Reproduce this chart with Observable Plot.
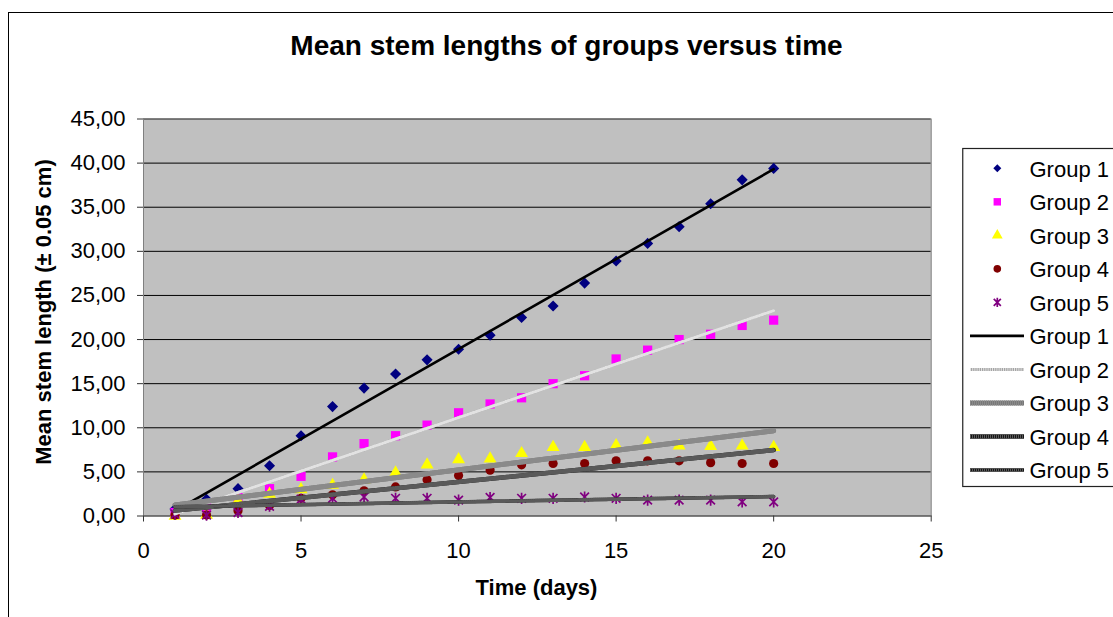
<!DOCTYPE html>
<html><head><meta charset="utf-8">
<script src="https://cdn.jsdelivr.net/npm/d3@7"></script>
<script src="https://cdn.jsdelivr.net/npm/@observablehq/plot@0.6"></script>
<style>
html,body{margin:0;padding:0;background:#fff;}
#wrap{position:relative;width:1113px;height:617px;overflow:hidden;font-family:"Liberation Sans",Arial,sans-serif;}
#border{position:absolute;left:8px;top:11.5px;width:1300px;height:800px;border:1.5px solid #000;box-sizing:border-box;}
#chart{position:absolute;left:0;top:0;}
#overlay{position:absolute;left:0;top:0;}
</style></head><body>
<div id="wrap"><div id="border"></div><div id="chart"></div><svg id="overlay" width="1113" height="617"></svg></div>
<script>
// ---- data ----
const days   = [1,2,3,4,5,6,7,8,9,10,11,12,13,14,15,16,17,18,19,20];
const group1 = [0.8,1.9,3.1,5.7,9.1,12.4,14.5,16.1,17.7,18.9,20.5,22.5,23.8,26.4,28.9,30.9,32.8,35.4,38.1,39.4];
const group2 = [0.4,1.0,2.1,3.1,4.5,6.7,8.2,9.1,10.3,11.7,12.7,13.4,15.0,15.9,17.8,18.8,20.0,20.6,21.6,22.2];
const group3 = [0.0,0.1,1.7,2.5,3.0,3.5,4.1,4.9,5.8,6.4,6.5,7.1,7.8,7.8,8.0,8.3,7.95,7.9,7.95,7.8];
const group4 = [0.1,0.1,0.6,1.2,2.0,2.4,2.85,3.3,4.1,4.6,5.2,5.8,5.95,5.95,6.25,6.25,6.25,6.05,5.95,5.95];
const group5 = [0.2,0.1,0.4,1.1,1.9,2.0,2.15,2.0,2.0,1.8,2.1,2.0,2.0,2.15,2.0,1.8,1.8,1.8,1.6,1.6];
const groupNames = ["Group 1","Group 2","Group 3","Group 4","Group 5"];
const xTicks = [0,5,10,15,20,25];
const yTicks = [0,5,10,15,20,25,30,35,40,45];
const titleText = "Mean stem lengths of groups versus time";
const xLabel = "Time (days)";
const yLabel = "Mean stem length (\u00b1 0.05 cm)";

const series = [group1, group2, group3, group4, group5];
const rows = series.map((s, k) => days.map((d, i) => ({day: d, value: s[i], group: groupNames[k]})));

// Excel-style star marker: X with a vertical stroke
const starSymbol = {
  draw(ctx, size) {
    const r = Math.sqrt(size) * 0.56;
    const a = r * 0.78;
    ctx.moveTo(0, -r); ctx.lineTo(0, r);
    ctx.moveTo(-a, -a); ctx.lineTo(a, a);
    ctx.moveTo(-a, a); ctx.lineTo(a, -a);
  }
};

// ---- styles ----
const markerStyle = [
  {symbol: d3.symbolDiamond2, fill: "#000080", r: 5.0, lr: 3.6},
  {symbol: d3.symbolSquare,   fill: "#ff00ff", r: 5.2, lr: 4.2},
  {symbol: d3.symbolTriangle, fill: "#ffff00", r: 4.8, lr: 4.0},
  {symbol: d3.symbolCircle,   fill: "#800000", r: 4.6, lr: 3.8},
  {symbol: starSymbol, stroke: "#800080", r: 5.6, lr: 4.6, strokeWidth: 1.7}
];
// each trend line: list of stroke layers
const trendStyle = [
  [{stroke: "#000", strokeWidth: 2.6}],
  [{stroke: "#a4a4a4", strokeWidth: 3}, {stroke: "#e2e2e2", strokeWidth: 3, strokeDasharray: "1 1.2"}],
  [{stroke: "#787878", strokeWidth: 5}, {stroke: "#8a8a8a", strokeWidth: 5, strokeDasharray: "1 1"}],
  [{stroke: "#151515", strokeWidth: 4.5}, {stroke: "#5a5a5a", strokeWidth: 4.5, strokeDasharray: "1 1"}],
  [{stroke: "#151515", strokeWidth: 3.5}, {stroke: "#5a5a5a", strokeWidth: 3.5, strokeDasharray: "1 1"}]
];
const fmt = d => d.toFixed(2).replace(".", ",");
const font = "Liberation Sans, Arial, sans-serif";

const marks = [
  Plot.frame({fill: "#c0c0c0"}),
  Plot.gridY(yTicks, {stroke: "#000", strokeOpacity: 1, strokeWidth: 1}),
  Plot.frame({stroke: "#808080", strokeWidth: 1}),
  Plot.axisY(yTicks, {tickSize: 6, tickPadding: 12, tickFormat: fmt, stroke: "#333", label: null, fontSize: 22}),
  Plot.axisX(xTicks, {tickSize: 6, tickPadding: 20, tickFormat: d => String(d), stroke: "#333", label: null, fontSize: 22})
];
rows.forEach((data, k) => {
  const m = markerStyle[k];
  marks.push(Plot.dot(data, {x: "day", y: "value", symbol: m.symbol, r: m.r,
    fill: m.fill || "none", stroke: m.stroke || "none", strokeWidth: m.strokeWidth || 1}));
});
rows.forEach((data, k) => {
  trendStyle[k].forEach(st => {
    marks.push(Plot.linearRegressionY(data, {x: "day", y: "value", ci: 0, ...st}));
  });
});

const chart = Plot.plot({
  width: 1113, height: 617,
  marginLeft: 143, marginRight: 182.3, marginTop: 118.5, marginBottom: 101.5,
  style: {background: "transparent", fontFamily: font, fontSize: "22px", color: "#000", overflow: "visible"},
  x: {domain: [0, 25], label: null},
  y: {domain: [0, 45], label: null},
  marks
});
document.getElementById("chart").appendChild(chart);

// ---- title, axis titles, legend (overlay) ----
const ov = d3.select("#overlay").style("font-family", font);
ov.append("text").attr("x", 566.5).attr("y", 55).attr("text-anchor", "middle")
  .attr("font-size", 28).attr("font-weight", "bold").text(titleText);
ov.append("text").attr("x", 536.5).attr("y", 595).attr("text-anchor", "middle")
  .attr("font-size", 22).attr("font-weight", "bold").text(xLabel);
ov.append("text").attr("transform", "translate(51,312) rotate(-90)").attr("text-anchor", "middle")
  .attr("font-size", 22).attr("font-weight", "bold").text(yLabel);

const lg = ov.append("g");
lg.append("rect").attr("x", 962.75).attr("y", 148.5).attr("width", 200).attr("height", 338)
  .attr("fill", "#fff").attr("stroke", "#222").attr("stroke-width", 1.2);
const rowY = i => 168.3 + i * 33.52;
markerStyle.forEach((m, i) => {
  const r = m.lr;
  lg.append("path").attr("transform", `translate(997.3,${rowY(i)})`)
    .attr("d", d3.symbol(m.symbol, r * r * Math.PI)())
    .attr("fill", m.fill || "none").attr("stroke", m.stroke || "none").attr("stroke-width", m.strokeWidth || 1);
  lg.append("text").attr("x", 1029.5).attr("y", rowY(i) + 8.5).attr("font-size", 22).text(groupNames[i]);
});
trendStyle.forEach((layers, i) => {
  const y = rowY(i + 5);
  layers.forEach(st => {
    lg.append("line").attr("x1", 970).attr("x2", 1024).attr("y1", y).attr("y2", y)
      .attr("stroke", st.stroke).attr("stroke-width", st.strokeWidth)
      .attr("stroke-dasharray", st.strokeDasharray || null);
  });
  lg.append("text").attr("x", 1029.5).attr("y", y + 8.5).attr("font-size", 22).text(groupNames[i]);
});
</script>
</body></html>
